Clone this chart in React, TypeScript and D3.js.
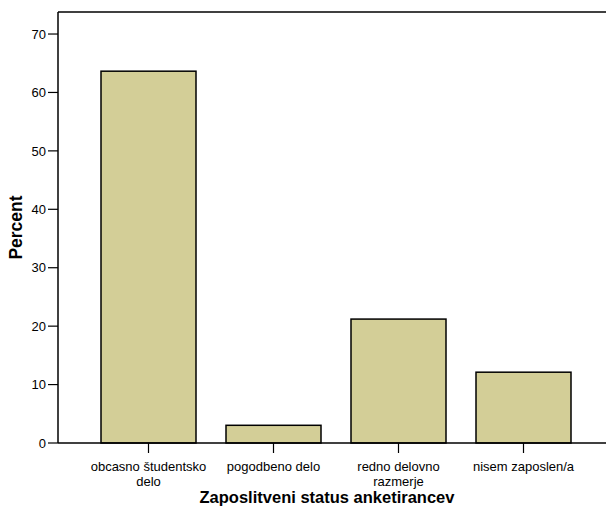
import React from "react";
import * as d3 from "d3";

const categories: string[][] = [
  ["obcasno študentsko", "delo"],
  ["pogodbeno delo"],
  ["redno delovno", "razmerje"],
  ["nisem zaposlen/a"],
];
const percents: number[] = [63.64, 3.03, 21.21, 12.12];
const yTicks: number[] = [0, 10, 20, 30, 40, 50, 60, 70];
const xTitle = "Zaposlitveni status anketirancev";
const yTitle = "Percent";

const W = 606;
const H = 510;
const left = 58;
const top = 12;
const bottom = 443;
const font = "Arial, 'Liberation Sans', sans-serif";

export default function App() {
  const keys = categories.map((c) => c.join(" "));
  const x = d3.scaleBand<string>().domain(keys).range([86, 586]).paddingInner(0.24).paddingOuter(0.12);
  const y = d3.scaleLinear().domain([0, 73.77]).range([bottom, top]);
  return (
    <svg width={W} height={H} style={{ position: "absolute", left: 0, top: 0 }}>
      <rect width={W} height={H} fill="#fff" />
      {percents.map((v, i) => (
        <rect
          key={i}
          x={x(keys[i])!}
          y={y(v)}
          width={x.bandwidth()}
          height={y(0) - y(v)}
          fill="#d3ce97"
          stroke="#000"
          strokeWidth={1.5}
        />
      ))}
      <line x1={left} x2={W} y1={top} y2={top} stroke="#000" strokeWidth={1.5} />
      <line x1={left} x2={W} y1={bottom} y2={bottom} stroke="#000" strokeWidth={1.5} />
      <line x1={left} x2={left} y1={top} y2={bottom} stroke="#000" strokeWidth={1.5} />
      {yTicks.map((t) => (
        <g key={t}>
          <line x1={left - 10} x2={left} y1={y(t)} y2={y(t)} stroke="#000" strokeWidth={1.2} />
          <text x={left - 12} y={y(t)} dy="0.36em" textAnchor="end" fontFamily={font} fontSize={13} fill="#000">
            {t}
          </text>
        </g>
      ))}
      {categories.map((lines, i) => {
        const cx = x(keys[i])! + x.bandwidth() / 2;
        return (
          <g key={i}>
            <line x1={cx} x2={cx} y1={bottom} y2={bottom + 10} stroke="#000" strokeWidth={1.2} />
            {lines.map((l, j) => (
              <text key={j} x={cx} y={471 + j * 15} textAnchor="middle" fontFamily={font} fontSize={13} fill="#000">
                {l}
              </text>
            ))}
          </g>
        );
      })}
      <text x={327} y={503} textAnchor="middle" fontFamily={font} fontSize={16.5} fontWeight="bold" fill="#000">
        {xTitle}
      </text>
      <text
        transform={`translate(22, ${(top + bottom) / 2}) rotate(-90)`}
        textAnchor="middle"
        fontFamily={font}
        fontSize={17.5}
        fontWeight="bold"
        fill="#000"
      >
        {yTitle}
      </text>
    </svg>
  );
}
